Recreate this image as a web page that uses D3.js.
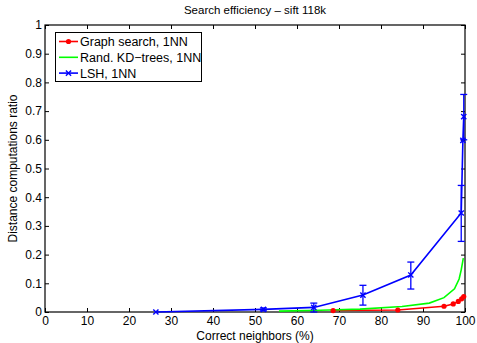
<!DOCTYPE html>
<html>
<head>
<meta charset="utf-8">
<script src="https://cdn.jsdelivr.net/npm/d3@7"></script>
<style>
  body { margin: 0; background: #fff; }
  text { font-family: "Liberation Sans", Arial, sans-serif; fill: #000; }
</style>
</head>
<body>
<div id="chart"></div>
<script>
var W = 477, H = 343;
var margin = {top: 25, right: 12, bottom: 31, left: 45};

// data
var xTicks = [0, 10, 20, 30, 40, 50, 60, 70, 80, 90, 100];
var yTicks = [0, 0.1, 0.2, 0.3, 0.4, 0.5, 0.6, 0.7, 0.8, 0.9, 1];

var graphX = [68.6, 84, 95, 97.2, 98.4, 99.2, 99.7];
var graphY = [0.005, 0.007, 0.02, 0.028, 0.037, 0.046, 0.054];

var kdX = [55.7, 65.5, 75, 85, 91.5, 95, 97.5, 98.6, 99.1, 99.6];
var kdY = [0.003, 0.006, 0.01, 0.019, 0.031, 0.05, 0.081, 0.115, 0.147, 0.188];

var lshX = [26.4, 52, 64, 75.7, 87.1, 99.1, 99.5, 99.7];
var lshY = [0, 0.009, 0.016, 0.059, 0.129, 0.345, 0.598, 0.681];
var lshLo = [0, 0.004, 0, 0.024, 0.08, 0.246, 0.598, 0.6];
var lshHi = [0, 0.014, 0.031, 0.093, 0.174, 0.441, 0.598, 0.758];

var series = [
  {name: "Graph search, 1NN", color: "#ff0000", xs: graphX, ys: graphY, marker: "dot"},
  {name: "Rand. KD\u2212trees, 1NN", color: "#00ff00", xs: kdX, ys: kdY, marker: "none"},
  {name: "LSH, 1NN", color: "#0000ff", xs: lshX, ys: lshY, marker: "x"}
];

var svg = d3.select("#chart").append("svg")
  .attr("width", W).attr("height", H);

var x = d3.scaleLinear().domain([0, 100]).range([margin.left, W - margin.right]);
var y = d3.scaleLinear().domain([0, 1]).range([H - margin.bottom, margin.top]);

var fmt = function(d){ return (d == 0 || d == 1) ? String(d) : d3.format(".1f")(d); };

// ticks pointing inwards, on all four sides
svg.append("g").attr("transform", "translate(0," + y(0) + ")")
  .call(d3.axisBottom(x).tickValues(xTicks).tickSize(-4).tickPadding(4))
  .call(g => g.select(".domain").remove());
svg.append("g").attr("transform", "translate(0," + y(1) + ")")
  .call(d3.axisTop(x).tickValues(xTicks).tickSize(-4).tickFormat(""))
  .call(g => g.select(".domain").remove());
svg.append("g").attr("transform", "translate(" + x(0) + ",0)")
  .call(d3.axisLeft(y).tickValues(yTicks).tickSize(-4).tickPadding(3).tickFormat(fmt))
  .call(g => g.select(".domain").remove());
svg.append("g").attr("transform", "translate(" + x(100) + ",0)")
  .call(d3.axisRight(y).tickValues(yTicks).tickSize(-4).tickFormat(""))
  .call(g => g.select(".domain").remove());

svg.selectAll(".tick text").style("font-size", "12px").style("font-family", "Liberation Sans, Arial, sans-serif");
svg.selectAll(".tick line").attr("stroke", "#000");

svg.append("rect")
  .attr("x", x(0)).attr("y", y(1))
  .attr("width", x(100) - x(0)).attr("height", y(0) - y(1))
  .attr("fill", "none").attr("stroke", "#000").attr("stroke-width", 1.2);

var line = d3.line().x(d => x(d[0])).y(d => y(d[1]));

series.forEach(function(s){
  var pts = s.xs.map((v, i) => [v, s.ys[i]]);
  svg.append("path").datum(pts)
    .attr("d", line).attr("fill", "none")
    .attr("stroke", s.color).attr("stroke-width", 1.6);
});

// LSH error bars
lshX.forEach(function(v, i){
  if (lshHi[i] - lshLo[i] < 0.001) return;
  var g = svg.append("g").attr("stroke", "#0000ff").attr("stroke-width", 1.3);
  g.append("line").attr("x1", x(v)).attr("x2", x(v)).attr("y1", y(lshLo[i])).attr("y2", y(lshHi[i]));
  [lshLo[i], lshHi[i]].forEach(function(e){
    g.append("line").attr("x1", x(v) - 3.5).attr("x2", x(v) + 3.5).attr("y1", y(e)).attr("y2", y(e));
  });
});

function drawMarker(g, type, cx, cy, color){
  if (type == "dot") {
    g.append("circle").attr("cx", cx).attr("cy", cy).attr("r", 2.6).attr("fill", color);
  } else if (type == "x") {
    var r = 2.6;
    g.append("path")
      .attr("d", "M" + (cx - r) + "," + (cy - r) + "L" + (cx + r) + "," + (cy + r) +
                 "M" + (cx - r) + "," + (cy + r) + "L" + (cx + r) + "," + (cy - r))
      .attr("stroke", color).attr("stroke-width", 1.4);
  }
}

series.forEach(function(s){
  var g = svg.append("g");
  s.xs.forEach(function(v, i){ drawMarker(g, s.marker, x(v), y(s.ys[i]), s.color); });
});

// title and axis labels
svg.append("text").attr("x", 255).attr("y", 14).attr("text-anchor", "middle")
  .style("font-size", "11.5px").text("Search efficiency \u2013 sift 118k");
svg.append("text").attr("x", 255).attr("y", 340).attr("text-anchor", "middle")
  .style("font-size", "12px").text("Correct neighbors (%)");
svg.append("text").attr("transform", "translate(17," + ((y(0) + y(1)) / 2) + ") rotate(-90)")
  .attr("text-anchor", "middle").style("font-size", "12px").text("Distance computations ratio");

// legend
var lg = svg.append("g");
lg.append("rect").attr("x", 55.5).attr("y", 32.5).attr("width", 146).attr("height", 49)
  .attr("fill", "#fff").attr("stroke", "#000").attr("stroke-width", 1);
series.forEach(function(s, i){
  var ly = 41.5 + i * 15.8;
  lg.append("line").attr("x1", 59).attr("x2", 78).attr("y1", ly).attr("y2", ly)
    .attr("stroke", s.color).attr("stroke-width", 1.6);
  drawMarker(lg, s.marker, 68.5, ly, s.color);
  lg.append("text").attr("x", 80).attr("y", ly + 4.5).style("font-size", "12.5px").text(s.name);
});
</script>
</body>
</html>
